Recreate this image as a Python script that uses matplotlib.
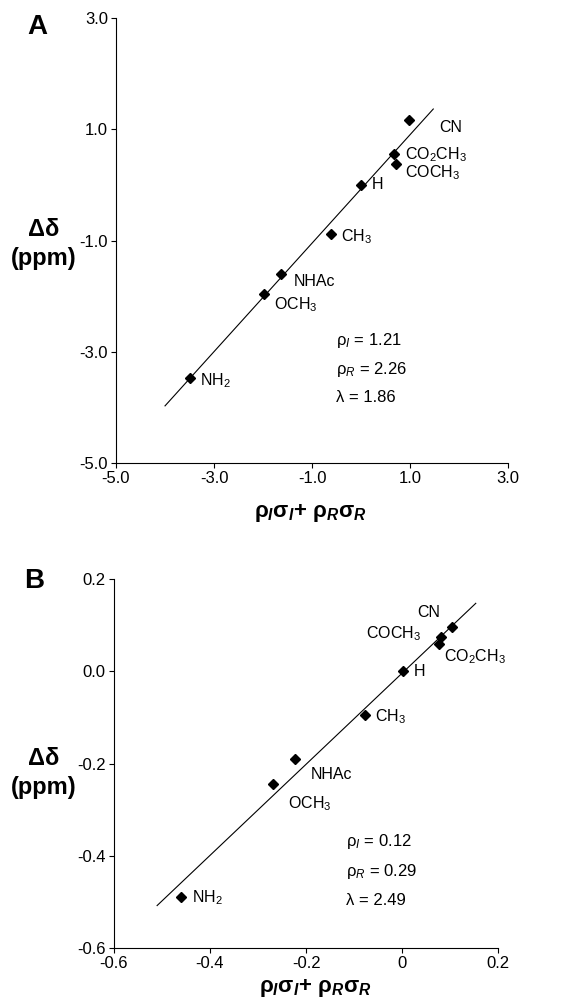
import numpy as np
import matplotlib
matplotlib.use('Agg')
import matplotlib.pyplot as plt

plt.rcParams['font.family'] = 'Liberation Sans'
plt.rcParams['axes.unicode_minus'] = False
plt.rcParams['mathtext.fontset'] = 'custom'
plt.rcParams['mathtext.rm'] = 'Liberation Sans'
plt.rcParams['mathtext.it'] = 'Liberation Sans:italic'
plt.rcParams['mathtext.bf'] = 'Liberation Sans:bold'
plt.rcParams['mathtext.bfit'] = 'Liberation Sans:italic:bold'

# ---- data ----
SUBST = ['CN', 'CO$_2$CH$_3$', 'COCH$_3$', 'H', 'CH$_3$', 'NHAc', 'OCH$_3$', 'NH$_2$']

A_X = [0.97, 0.675, 0.70, 0.0, -0.62, -1.64, -1.98, -3.50]
A_Y = [1.17, 0.56, 0.38, 0.0, -0.89, -1.60, -1.96, -3.48]
A_LINE_X = [-4.0, 1.47]
A_XTICKS = [-5.0, -3.0, -1.0, 1.0, 3.0]
A_XTICKLABELS = ['-5.0', '-3.0', '-1.0', '1.0', '3.0']
A_YTICKS = [-5.0, -3.0, -1.0, 1.0, 3.0]
A_YTICKLABELS = ['-5.0', '-3.0', '-1.0', '1.0', '3.0']
A_PARAMS = ['1.21', '2.26', '1.86']

B_X = [0.104, 0.076, 0.080, 0.001, -0.078, -0.223, -0.268, -0.46]
B_Y = [0.096, 0.060, 0.075, 0.0, -0.095, -0.19, -0.245, -0.49]
B_LINE_X = [-0.51, 0.153]
B_XTICKS = [-0.6, -0.4, -0.2, 0.0, 0.2]
B_XTICKLABELS = ['-0.6', '-0.4', '-0.2', '0', '0.2']
B_YTICKS = [-0.6, -0.4, -0.2, 0.0, 0.2]
B_YTICKLABELS = ['-0.6', '-0.4', '-0.2', '0.0', '0.2']
B_PARAMS = ['0.12', '0.29', '2.49']

# label offsets in pixels (dx, dy, ha) relative to each point
A_OFFS = [(31, -8, 'left'), (11, -1, 'left'), (9, -9, 'left'), (11, 0, 'left'),
          (10, -2, 'left'), (13, -8, 'left'), (10, -11, 'left'), (10, -2, 'left')]
B_OFFS = [(-35, 15, 'left'), (5, -13, 'left'), (-20, 3, 'right'), (11, 0, 'left'),
          (10, -1, 'left'), (16, -16, 'left'), (15, -19, 'left'), (11, -1, 'left')]

XLABEL = (r'$\mathbf{\rho}_{\mathbfit{I}}\mathbf{\sigma}_{\mathbfit{I}}\mathbf{+\ \rho}_{\mathbfit{R}}'
          r'\mathbf{\sigma}_{\mathbfit{R}}$')


def panel(ax, xs, ys, line_x, xt, xtl, yt, ytl, offs, params, ptxt, xl_xy, yl_xy):
    ax.plot(xs, ys, 'D', color='black', ms=4.6, zorder=3)
    k, b = np.polyfit(xs, ys, 1)
    lx = np.array(line_x)
    ax.plot(lx, k * lx + b, color='black', lw=0.8)
    for s, x, y, (dx, dy, ha) in zip(SUBST, xs, ys, offs):
        ax.annotate(s, (x, y), xytext=(dx, dy), textcoords='offset pixels',
                    ha=ha, va='center', fontsize=11.5)
    ax.set_xlim(xt[0], xt[-1]); ax.set_ylim(yt[0], yt[-1])
    ax.set_xticks(xt); ax.set_xticklabels(xtl, fontsize=12)
    ax.set_yticks(yt); ax.set_yticklabels(ytl, fontsize=12)
    ax.spines[['top', 'right']].set_visible(False)
    ax.tick_params(length=3.3, width=0.8, direction='out', pad=2.5)
    for s in ['left', 'bottom']:
        ax.spines[s].set_linewidth(0.8)
    ax.set_xlabel(XLABEL, fontsize=16, va='center')
    ax.xaxis.set_label_coords(*xl_xy)
    ax.set_ylabel('Δδ\n(ppm)', rotation=0, fontsize=17, fontweight='bold',
                  ha='center', va='center', linespacing=1.3)
    ax.yaxis.set_label_coords(*yl_xy)
    px, py = ptxt
    labs = [r'$\mathrm{\rho}_{\mathit{I}}$', r'$\mathrm{\rho}_{\mathit{R}}$', 'λ']
    for i, (lab, v) in enumerate(zip(labs, params)):
        ax.text(px, py[i], f'{lab} = {v}', fontsize=12, ha='left', va='center',
                transform=ax.transData)


fig = plt.figure(figsize=(5.75, 10.07), dpi=100)
axA = fig.add_axes([0.2017, 0.5405, 0.6823, 0.4413])
axB = fig.add_axes([0.198, 0.0589, 0.6687, 0.3658])

panel(axA, A_X, A_Y, A_LINE_X, A_XTICKS, A_XTICKLABELS, A_YTICKS, A_YTICKLABELS,
      A_OFFS, A_PARAMS, (-0.52, [-2.80, -3.33, -3.82]), (0.495, -0.113), (-0.1835, 0.492))
panel(axB, B_X, B_Y, B_LINE_X, B_XTICKS, B_XTICKLABELS, B_YTICKS, B_YTICKLABELS,
      B_OFFS, B_PARAMS, (-0.118, [-0.370, -0.434, -0.497]), (0.523, -0.11), (-0.182, 0.474))

fig.text(37 / 575, 1 - 27 / 1007, 'A', fontsize=20, fontweight='bold', ha='center', va='center')
fig.text(34 / 575, 1 - 581 / 1007, 'B', fontsize=20, fontweight='bold', ha='center', va='center')

fig.savefig('out.png', dpi=100)
